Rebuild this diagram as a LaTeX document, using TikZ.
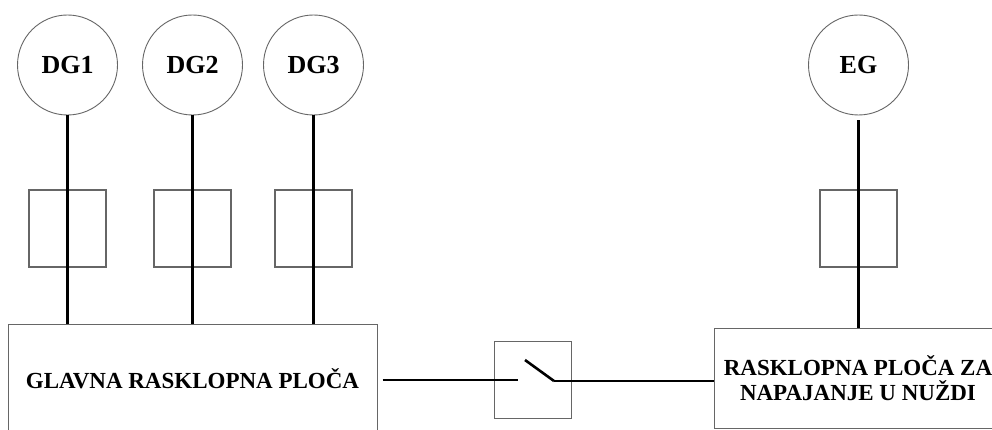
\documentclass[tikz,border=0pt]{standalone}
\usepackage{fontspec}
\setmainfont{Liberation Serif}
\usetikzlibrary{positioning}

\tikzset{
    gen/.style={draw=black!60, line width=0.9pt, circle, minimum size=100pt, inner sep=0pt, font=\fontsize{26}{30}\selectfont\bfseries},
    brk/.style={draw=black!60, line width=1.3pt, minimum width=77pt, minimum height=77pt, inner sep=0pt},
    panel/.style={draw=black!60, line width=1pt, inner sep=0pt, align=center, font=\fontsize{23}{25}\selectfont\bfseries},
    wire/.style={line width=2.6pt, black}
}

\begin{document}
\begin{tikzpicture}[x=1pt, y=-1pt]
    \useasboundingbox[fill=white] (0,0) rectangle (992,430);

    % panels
    \node[panel, minimum width=369pt, minimum height=109pt] (main) at (192.5,378.5) {GLAVNA RASKLOPNA PLOČA};
    \node[panel, minimum width=288pt, minimum height=100pt] (emer) at (858,378) {RASKLOPNA PLOČA ZA\\NAPAJANJE U NUŽDI};

    % generators with breakers
    \foreach \n/\x in {1/67.5,2/192.5,3/313.5} {
        \node[gen] (dg\n) at (\x,65) {DG\n};
        \node[brk] (b\n) at (\x,228.5) {};
        \draw[wire] (dg\n.south) -- (dg\n.south |- main.north);
    }
    \node[gen] (eg) at (858.5,65) {EG};
    \node[brk] (b4) at (858.5,228.5) {};
    \draw[wire] ([yshift=-5pt]eg.south) -- (eg.south |- emer.north);

    % tie switch
    \node[brk] (sw) at (533,380) {};
    \coordinate (swl) at (518,380);
    \coordinate (swa) at (525,360);
    \coordinate (swb) at (554,381);
    \draw[wire] ([xshift=5pt]main.east |- swl) -- (swl);
    \draw[wire] (swa) -- (swb);
    \draw[wire] (swb) -- (emer.west |- swb);
\end{tikzpicture}
\end{document}
